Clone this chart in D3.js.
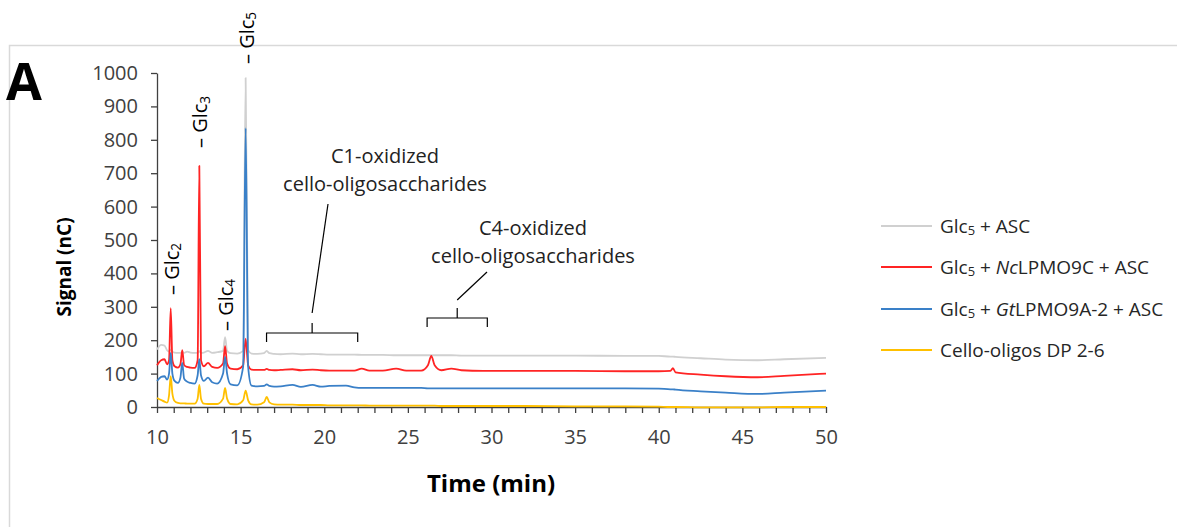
<!DOCTYPE html>
<html>
<head>
<meta charset="utf-8">
<title>Chromatogram</title>
<style>
  body, html { margin: 0; padding: 0; background: #fff; }
  svg { display: block; font-family: "Open Sans", sans-serif; }
</style>
</head>
<body>
<svg id="svg" width="1177" height="527"></svg>
<script src="https://d3js.org/d3.v7.min.js"></script>
<script>
// retention time (min)
const time = [10.0, 10.25, 10.45, 10.6, 10.72, 10.82, 10.92, 11.05, 11.25, 11.4,
  11.51, 11.62, 11.8, 12.0, 12.25, 12.43, 12.53, 12.63, 12.8, 13.05,
  13.3, 13.6, 13.95, 14.07, 14.19, 14.4, 14.8, 15.15, 15.3, 15.45,
  15.65, 16.0, 16.4, 16.56, 16.72, 17.0, 17.4, 18.1, 18.6, 19.3,
  19.8, 20.3, 21.3, 21.8, 22.24, 22.7, 23.5, 24.3, 24.9, 25.8,
  26.2, 26.4, 26.6, 27.0, 27.6, 28.2, 29.5, 32.0, 35.0, 38.0,
  40.0, 40.7, 40.85, 41.0, 42.5, 44.0, 45.9, 47.5, 50.0]

// signal (nC)
const glc5Asc = [172, 186, 184, 170, 166, 172, 166, 163, 162, 162,
  165, 162, 166, 163, 162, 162, 167, 162, 163, 168,
  162, 164, 168, 209, 168, 161, 160, 168, 985, 170,
  160, 159, 161, 168, 161, 159, 158, 160, 158, 159,
  158, 157, 157, 157, 156, 156, 156, 155, 155, 155,
  155, 155, 155, 155, 155, 154, 154, 154, 154, 153,
  153, 151, 151, 150, 146, 142, 140, 143, 147]

const glc5Nc = [125, 140, 143, 128, 140, 296, 140, 122, 118, 128,
  170, 126, 120, 118, 117, 140, 722, 140, 122, 132,
  120, 117, 130, 182, 130, 115, 113, 125, 205, 125,
  112, 111, 111, 114, 111, 110, 111, 113, 110, 112,
  110, 109, 109, 109, 115, 109, 109, 115, 109, 109,
  125, 153, 125, 110, 115, 110, 108, 108, 108, 107,
  107, 108, 116, 104, 97, 92, 89, 93, 100]

const glc5Gt = [78, 90, 92, 82, 100, 162, 100, 78, 72, 88,
  132, 85, 76, 72, 70, 95, 143, 95, 78, 88,
  74, 70, 100, 150, 100, 68, 65, 120, 835, 120,
  64, 62, 63, 68, 63, 61, 62, 66, 60, 66,
  61, 63, 64, 59, 57, 57, 57, 57, 57, 57,
  56, 56, 56, 56, 56, 56, 56, 56, 56, 56,
  55, 53, 53, 52, 47, 43, 39, 43, 49]

const celloStd = [27, 21, 16, 13, 35, 92, 40, 18, 12, 11,
  11, 11, 10, 10, 10, 25, 66, 25, 10, 9,
  9, 9, 25, 57, 25, 9, 8, 20, 49, 20,
  8, 7, 14, 30, 14, 8, 7, 7, 6, 6,
  6, 5, 5, 5, 5, 4, 4, 4, 4, 4,
  4, 4, 4, 3, 3, 3, 3, 3, 2, 2,
  1, 0, 0, 0, -1, -1, -1, 0, 0]

const yTicks = [0, 100, 200, 300, 400, 500, 600, 700, 800, 900, 1000]
const xTicks = [10, 15, 20, 25, 30, 35, 40, 45, 50]

// legend labels, split into runs: [text, style]  (s = subscript, i = italic)
const legendLabels = [
  [["Glc", ""], ["5", "s"], [" + ASC", ""]],
  [["Glc", ""], ["5", "s"], [" + ", ""], ["Nc", "i"], ["LPMO9C + ASC", ""]],
  [["Glc", ""], ["5", "s"], [" + ", ""], ["Gt", "i"], ["LPMO9A-2 + ASC", ""]],
  [["Cello-oligos DP 2-6", ""]]
]
const colors = ["#d0d0d0", "#ff2424", "#3a80c8", "#ffc000"]

// peak labels
const peakTimes = [10.82, 12.53, 14.07, 15.3]
const peakNames = ["2", "3", "4", "5"]

const svg = d3.select("#svg")
const x = d3.scaleLinear().domain([10, 50]).range([157, 826])
const y = d3.scaleLinear().domain([0, 1000]).range([407, 73])
const ink = "#404040"

// chart frame (light border, top and left visible)
svg.append("rect")
  .attr("x", 9.5).attr("y", 45.5)
  .attr("width", 1200).attr("height", 600)
  .attr("fill", "none").attr("stroke", "#d9d9d9").attr("stroke-width", 1.5)

// panel letter
svg.append("text")
  .attr("x", 6).attr("y", 100)
  .attr("font-size", 52).attr("font-weight", 700)
  .attr("fill", "#000")
  .text("A")

// axes
const yAxis = svg.append("g")
  .attr("transform", `translate(${x(10)},0)`)
  .call(d3.axisLeft(y).tickValues(yTicks).tickFormat(d3.format("d"))
    .tickSize(6).tickSizeOuter(0).tickPadding(13))
yAxis.selectAll("text").attr("font-size", 20).attr("fill", ink)
  .attr("font-family", "Open Sans")

const xAxis = svg.append("g")
  .attr("transform", `translate(0,${y(0)})`)
  .call(d3.axisBottom(x).tickValues(d3.range(10, 51, 1)).tickSize(6).tickSizeOuter(0)
    .tickPadding(17).tickFormat(d => xTicks.includes(d) ? d : ""))
xAxis.selectAll("text").attr("font-size", 20).attr("fill", ink)
  .attr("font-family", "Open Sans")

svg.selectAll(".domain, .tick line")
  .attr("stroke", ink).attr("stroke-width", 1.3)

// axis titles
svg.append("text")
  .attr("transform", "translate(64,267) rotate(-90)")
  .attr("text-anchor", "middle").attr("dominant-baseline", "central")
  .attr("font-size", 19).attr("font-weight", 700).attr("fill", "#000")
  .text("Signal (nC)")

svg.append("text")
  .attr("x", 491).attr("y", 482)
  .attr("text-anchor", "middle").attr("dominant-baseline", "central")
  .attr("font-size", 24).attr("font-weight", 700).attr("fill", "#000")
  .text("Time (min)")

// series
const series = [glc5Asc, glc5Nc, glc5Gt, celloStd]
const line = d3.line()
  .x((d, i) => x(time[i]))
  .y(d => y(d))
  .curve(d3.curveMonotoneX)

svg.append("g")
  .selectAll("path")
  .data(series)
  .join("path")
  .attr("d", line)
  .attr("fill", "none")
  .attr("stroke", (d, i) => colors[i])
  .attr("stroke-width", 1.8)
  .attr("stroke-linejoin", "round")

// write runs with subscripts / italics into a text element
function writeRuns(text, runs, fs) {
  let shifted = false
  runs.forEach(([t, st]) => {
    const span = text.append("tspan").text(t)
    if (st === "s") {
      span.attr("font-size", fs * 0.68).attr("dy", fs * 0.22)
      shifted = true
    } else {
      if (shifted) { span.attr("dy", -fs * 0.22); shifted = false }
      if (st === "i") span.attr("font-style", "italic")
    }
  })
}

// peak labels (rotated)
const peakLabelY = [295, 148, 331, 64]
peakTimes.forEach((t, i) => {
  const txt = svg.append("text")
    .attr("transform", `translate(${x(t)},${peakLabelY[i]}) rotate(-90)`)
    .attr("dominant-baseline", "central")
    .attr("font-size", 20).attr("fill", "#000")
  writeRuns(txt, [["– Glc", ""], [peakNames[i], "s"]], 20)
})

// brackets + callouts
function bracket(t0, t1, by, tipY, lineTo) {
  const x0 = x(t0), x1 = x(t1), xm = (x0 + x1) / 2
  const g = svg.append("g").attr("fill", "none").attr("stroke", "#000").attr("stroke-width", 1.2)
  g.append("path").attr("d", `M${x0},${by + 9}V${by}H${x1}V${by + 9}M${xm},${by}V${by - 10}`)
  g.append("line")
    .attr("x1", xm).attr("y1", tipY)
    .attr("x2", lineTo[0]).attr("y2", lineTo[1])
}
bracket(16.55, 22.0, 333, 313, [328, 204])
bracket(26.15, 29.75, 318, 300, [487, 272])

function callout(cx, y1, lines) {
  lines.forEach((l, i) => {
    svg.append("text")
      .attr("x", cx).attr("y", y1 + i * 28)
      .attr("text-anchor", "middle")
      .attr("font-size", 20).attr("fill", "#222")
      .text(l)
  })
}
callout(385, 163, ["C1-oxidized", "cello-oligosaccharides"])
callout(533, 235, ["C4-oxidized", "cello-oligosaccharides"])

// legend
const legendY = [226, 267, 309, 350]
const legend = svg.append("g")
legendLabels.forEach((runs, i) => {
  legend.append("line")
    .attr("x1", 881).attr("x2", 932)
    .attr("y1", legendY[i]).attr("y2", legendY[i])
    .attr("stroke", colors[i]).attr("stroke-width", 1.8)
  const txt = legend.append("text")
    .attr("x", 940).attr("y", legendY[i])
    .attr("dominant-baseline", "central")
    .attr("font-size", 19).attr("fill", "#262626")
  writeRuns(txt, runs, 19)
})
</script>
</body>
</html>
